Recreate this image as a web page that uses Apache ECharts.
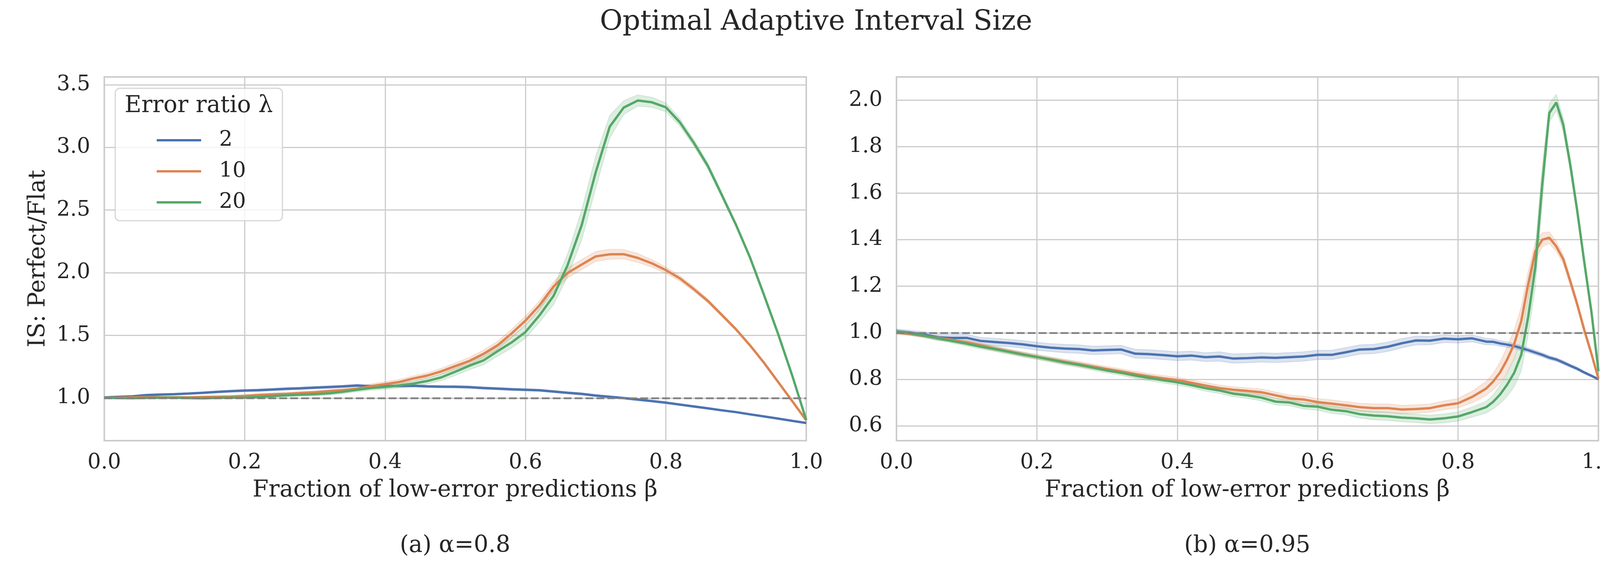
<!DOCTYPE html>
<html>
<head>
<meta charset="utf-8">
<script src="https://cdn.jsdelivr.net/npm/echarts@6/dist/echarts.min.js"></script>
<style>
  html, body { margin: 0; padding: 0; background: #ffffff; }
  #chart { width: 4200px; height: 1500px; }
</style>
</head>
<body>
<div id="chart"></div>
<script>
// ---- data ----
// (a) alpha = 0.8
var betaA = [0.00,0.02,0.04,0.06,0.08,0.10,0.12,0.14,0.16,0.18,
             0.20,0.22,0.24,0.26,0.28,0.30,0.32,0.34,0.36,0.38,
             0.40,0.42,0.44,0.46,0.48,0.50,0.52,0.54,0.56,0.58,
             0.60,0.62,0.64,0.66,0.68,0.70,0.72,0.74,0.76,0.78,
             0.80,0.82,0.84,0.86,0.88,0.90,0.92,0.94,0.96,0.98,1.00];
var isA2  = [1.005,1.010,1.014,1.024,1.028,1.031,1.036,1.042,1.049,1.055,
             1.060,1.063,1.068,1.074,1.078,1.083,1.088,1.093,1.100,1.094,
             1.095,1.097,1.098,1.093,1.091,1.090,1.087,1.080,1.075,1.070,
             1.066,1.062,1.052,1.042,1.033,1.020,1.010,1.000,0.988,0.976,
             0.963,0.948,0.933,0.918,0.902,0.888,0.870,0.853,0.836,0.818,0.801];
var isA10 = [1.003,1.004,1.006,1.008,1.006,1.006,1.005,1.008,1.010,1.012,
             1.017,1.024,1.029,1.033,1.040,1.046,1.055,1.063,1.074,1.095,
             1.111,1.128,1.156,1.179,1.213,1.255,1.296,1.352,1.420,1.514,
             1.618,1.740,1.890,1.998,2.065,2.130,2.147,2.148,2.118,2.075,
             2.021,1.955,1.868,1.774,1.662,1.548,1.420,1.280,1.128,0.976,0.822];
var isA20 = [1.002,1.000,0.999,1.001,1.002,1.003,1.000,0.998,1.001,1.003,
             1.004,1.009,1.016,1.022,1.027,1.031,1.038,1.050,1.066,1.080,
             1.088,1.100,1.115,1.136,1.165,1.210,1.258,1.300,1.373,1.443,
             1.527,1.660,1.815,2.060,2.378,2.800,3.165,3.318,3.374,3.360,
             3.320,3.200,3.035,2.850,2.617,2.381,2.120,1.820,1.510,1.180,0.825];
var ciA2  = [0.006,0.006,0.007,0.007,0.008,0.008,0.008,0.008,0.009,0.009,
             0.009,0.010,0.010,0.010,0.010,0.010,0.010,0.010,0.010,0.010,
             0.010,0.010,0.010,0.010,0.010,0.010,0.010,0.010,0.010,0.010,
             0.009,0.009,0.009,0.009,0.009,0.009,0.009,0.009,0.009,0.009,
             0.008,0.008,0.008,0.007,0.007,0.006,0.006,0.005,0.004,0.003,0.002];
var ciA10 = [0.006,0.007,0.008,0.008,0.008,0.008,0.008,0.008,0.008,0.008,
             0.010,0.012,0.012,0.012,0.012,0.013,0.014,0.015,0.016,0.018,
             0.020,0.020,0.021,0.022,0.024,0.026,0.028,0.030,0.032,0.034,
             0.035,0.036,0.038,0.040,0.040,0.040,0.040,0.038,0.035,0.030,
             0.026,0.022,0.019,0.016,0.014,0.012,0.011,0.010,0.008,0.006,0.003];
var ciA20 = [0.006,0.007,0.008,0.008,0.008,0.008,0.008,0.008,0.008,0.008,
             0.010,0.012,0.012,0.012,0.012,0.013,0.014,0.015,0.016,0.018,
             0.020,0.020,0.022,0.024,0.026,0.030,0.032,0.035,0.040,0.045,
             0.050,0.055,0.070,0.090,0.120,0.130,0.090,0.055,0.045,0.040,
             0.035,0.030,0.027,0.024,0.021,0.018,0.016,0.014,0.012,0.009,0.004];

// (b) alpha = 0.95
var betaB = [0.00,0.02,0.04,0.06,0.08,0.10,0.12,0.14,0.16,0.18,
             0.20,0.22,0.24,0.26,0.28,0.30,0.32,0.34,0.36,0.38,
             0.40,0.42,0.44,0.46,0.48,0.50,0.52,0.54,0.56,0.58,
             0.60,0.62,0.64,0.66,0.68,0.70,0.72,0.74,0.76,0.78,
             0.80,0.82,0.84,
             0.85,0.86,0.87,0.88,0.89,0.90,0.91,0.92,0.93,0.94,0.95,0.96,0.97,0.98,0.99,1.00];
var isB2  = [1.006,1.000,0.992,0.980,0.978,0.978,0.965,0.960,0.956,0.950,
             0.942,0.936,0.932,0.930,0.924,0.926,0.928,0.910,0.908,0.904,
             0.899,0.902,0.895,0.898,0.889,0.891,0.894,0.892,0.895,0.898,
             0.905,0.905,0.916,0.928,0.930,0.940,0.955,0.967,0.966,0.975,
             0.972,0.976,0.962,
             0.961,0.954,0.949,0.943,0.934,0.925,0.915,0.905,0.893,0.885,0.872,0.858,0.845,0.829,0.815,0.800];
var isB10 = [1.001,0.995,0.987,0.978,0.969,0.958,0.946,0.932,0.920,0.908,
             0.896,0.886,0.875,0.865,0.854,0.844,0.834,0.822,0.812,0.804,
             0.797,0.785,0.773,0.762,0.755,0.750,0.744,0.731,0.718,0.713,
             0.702,0.695,0.688,0.680,0.676,0.676,0.670,0.672,0.676,0.688,
             0.697,0.724,0.760,
             0.790,0.830,0.885,0.952,1.050,1.210,1.350,1.400,1.409,1.371,1.316,1.220,1.120,1.010,0.910,0.803];
var isB20 = [1.006,0.998,0.988,0.976,0.964,0.953,0.940,0.930,0.918,0.906,
             0.896,0.884,0.872,0.862,0.850,0.838,0.828,0.816,0.806,0.796,
             0.787,0.775,0.762,0.752,0.738,0.731,0.721,0.704,0.700,0.686,
             0.682,0.669,0.663,0.650,0.644,0.641,0.635,0.632,0.627,0.632,
             0.640,0.659,0.680,
             0.703,0.735,0.777,0.828,0.905,1.070,1.280,1.640,1.945,1.990,1.893,1.720,1.520,1.300,1.090,0.835];
var ciB2  = [0.010,0.010,0.012,0.013,0.014,0.015,0.015,0.016,0.016,0.016,
             0.017,0.017,0.018,0.018,0.018,0.018,0.018,0.019,0.019,0.019,
             0.019,0.019,0.019,0.020,0.020,0.020,0.020,0.020,0.020,0.020,
             0.020,0.020,0.020,0.020,0.020,0.020,0.020,0.019,0.018,0.017,
             0.016,0.015,0.014,
             0.013,0.012,0.012,0.011,0.011,0.010,0.010,0.009,0.009,0.008,0.008,0.007,0.007,0.006,0.005,0.004];
var ciB10 = [0.008,0.008,0.008,0.009,0.009,0.010,0.010,0.010,0.010,0.010,
             0.010,0.010,0.011,0.011,0.011,0.011,0.011,0.012,0.012,0.012,
             0.012,0.012,0.013,0.013,0.013,0.013,0.014,0.014,0.014,0.014,
             0.015,0.016,0.016,0.017,0.018,0.018,0.018,0.018,0.018,0.019,
             0.020,0.025,0.030,
             0.035,0.045,0.055,0.060,0.060,0.055,0.040,0.030,0.025,0.022,0.020,0.018,0.016,0.014,0.012,0.008];
var ciB20 = [0.008,0.008,0.008,0.009,0.009,0.010,0.010,0.010,0.010,0.010,
             0.010,0.010,0.011,0.011,0.011,0.011,0.011,0.012,0.012,0.012,
             0.012,0.012,0.013,0.013,0.013,0.013,0.014,0.014,0.014,0.014,
             0.015,0.016,0.016,0.017,0.018,0.018,0.018,0.018,0.018,0.019,
             0.020,0.022,0.025,
             0.030,0.040,0.050,0.060,0.070,0.080,0.085,0.080,0.040,0.035,0.030,0.028,0.025,0.020,0.015,0.010];

var lambdas = ['2', '10', '20'];
var palette = ['#4C72B0', '#DD8452', '#55A868'];
var refValue = 1.0;
var xTitle = 'Fraction of low-error predictions \u03b2';
var yTitle = 'IS: Perfect/Flat';
var subTitles = ['(a) \u03b1=0.8', '(b) \u03b1=0.95'];

var FONT = 'DejaVu Serif';
var INK = '#262626';
var GRIDC = '#cccccc';

var panels = [
  { beta: betaA, ys: [isA2, isA10, isA20], cis: [ciA2, ciA10, ciA20], yMin: 0.660, yMax: 3.562, split: 6 },
  { beta: betaB, ys: [isB2, isB10, isB20], cis: [ciB2, ciB10, ciB20], yMin: 0.536, yMax: 2.100, split: 8 }
];

function pairs(xs, ys) {
  return xs.map(function (x, i) { return [x, ys[i]]; });
}

// shaded confidence band, drawn as one polygon through the axis scales
function bandSeries(idx, xs, ys, ci, color) {
  return {
    type: 'custom',
    xAxisIndex: idx, yAxisIndex: idx,
    silent: true, z: 2,
    data: [[xs[0], ys[0]]],
    renderItem: function (params, api) {
      var up = [], lo = [];
      for (var i = 0; i < xs.length; i++) {
        up.push(api.coord([xs[i], ys[i] + ci[i]]));
        lo.unshift(api.coord([xs[i], ys[i] - ci[i]]));
      }
      return {
        type: 'polygon',
        shape: { points: up.concat(lo) },
        style: { fill: color, stroke: color, lineWidth: 2, opacity: 0.2 }
      };
    }
  };
}

var grids = [
  { left: 267, top: 197, width: 1797, height: 931 },
  { left: 2295, top: 197, width: 1797, height: 931 }
];

var xAxes = [], yAxes = [], series = [];
panels.forEach(function (p, k) {
  grids[k].show = true;
  grids[k].borderColor = GRIDC;
  grids[k].borderWidth = 4;
  grids[k].backgroundColor = '#ffffff';
  xAxes.push({
    type: 'value', gridIndex: k, min: 0, max: 1, interval: 0.2,
    axisLine: { show: false }, axisTick: { show: false },
    splitLine: { show: true, lineStyle: { color: GRIDC, width: 3 } },
    axisLabel: { margin: 30, fontFamily: FONT, fontSize: 54, color: INK,
                 formatter: function (v) { return v.toFixed(1); } }
  });
  yAxes.push({
    type: 'value', gridIndex: k, min: p.yMin, max: p.yMax, splitNumber: p.split,
    axisLine: { show: false }, axisTick: { show: false },
    splitLine: { show: true, lineStyle: { color: GRIDC, width: 3 } },
    axisLabel: { margin: 36, fontFamily: FONT, fontSize: 54, color: INK,
                 showMinLabel: false, showMaxLabel: false,
                 formatter: function (v) { return v.toFixed(1); } }
  });
  p.ys.forEach(function (ys, j) {
    series.push(bandSeries(k, p.beta, ys, p.cis[j], palette[j]));
  });
  p.ys.forEach(function (ys, j) {
    var s = {
      type: 'line', name: lambdas[j],
      xAxisIndex: k, yAxisIndex: k,
      data: pairs(p.beta, ys),
      symbol: 'none', z: 3,
      lineStyle: { width: 6, color: palette[j] },
      itemStyle: { color: palette[j] }
    };
    if (j === p.ys.length - 1) {
      s.markLine = {
        silent: true, symbol: ['none', 'none'],
        label: { show: false },
        lineStyle: { type: [20, 8], color: '#808080', width: 4.5 },
        data: [{ yAxis: refValue }]
      };
    }
    series.push(s);
  });
});

function label(text, x, y, size, extra) {
  var o = {
    type: 'text', x: x, y: y, z: 60, silent: true,
    style: { text: text, fill: INK, font: size + 'px "' + FONT + '"',
             textAlign: 'center', textVerticalAlign: 'middle' }
  };
  if (extra) { for (var key in extra) { o[key] = extra[key]; } }
  return o;
}

var option = {
  animation: false,
  backgroundColor: '#ffffff',
  grid: grids,
  xAxis: xAxes,
  yAxis: yAxes,
  series: series,
  legend: {
    data: lambdas, orient: 'vertical', left: 396, top: 327,
    icon: 'roundRect', itemWidth: 114, itemHeight: 6, itemGap: 25.5,
    selectedMode: false, z: 60,
    textStyle: { fontFamily: FONT, fontSize: 54, color: INK, lineHeight: 54, padding: [0, 0, 0, 41] }
  },
  graphic: [
    { type: 'rect', z: 50, silent: true,
      shape: { x: 295, y: 226, width: 428, height: 339, r: 12 },
      style: { fill: 'rgba(255,255,255,0.8)', stroke: '#d6d6d6', lineWidth: 3 } },
    { type: 'text', x: 319, y: 272, z: 60, silent: true,
      style: { text: 'Error ratio \u03bb', fill: INK, font: '59px "' + FONT + '"',
               textAlign: 'left', textVerticalAlign: 'middle' } },
    label('Optimal Adaptive Interval Size', 2089, 58, 71),
    label(xTitle, 1165, 1256, 59),
    label(xTitle, 3193, 1256, 59),
    label(subTitles[0], 1165, 1398, 59),
    label(subTitles[1], 3193, 1398, 59),
    label(yTitle, 99, 662, 59, { rotation: Math.PI / 2 })
  ]
};

var chart = echarts.init(document.getElementById('chart'), null, { renderer: 'canvas' });
chart.setOption(option);
</script>
</body>
</html>
